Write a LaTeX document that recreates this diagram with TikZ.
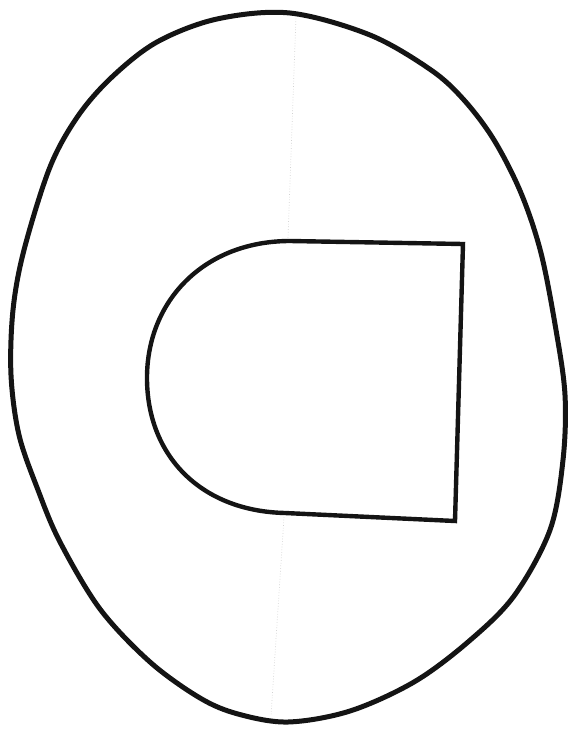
\documentclass[tikz,border=0pt]{standalone}
\begin{document}
\begin{tikzpicture}[x=1pt,y=-1pt,
  outline/.style={draw=black!92,line width=5pt,line join=round,line cap=round},
  scanline/.style={draw=black!18,line width=0.7pt,dotted}]
\useasboundingbox (0,0) rectangle (571,729);
% faint scan line
\draw[scanline] (296,16) -- (288,238);
\draw[scanline] (284,517) -- (271,716);
% outer egg-shaped outline
\draw[outline] plot[smooth cycle,tension=0.55] coordinates {
  (290,13) (370,35) (431,70) (464,100) (494,140) (521,193) (541,253)
  (556,330) (565,395) (563,460) (550,530) (514,596) (468,642) (414,682)
  (350,711) (288,722) (238,714) (200,698) (150,662) (100,609) (60,542) (38,490)
  (19,435) (11,375) (13,310) (24,250) (50,167) (78,116) (112,77)
  (157,42) (217,19)};
% inner D shape
\draw[outline,line width=4.4pt,line cap=butt,line join=miter]
  (290,241) -- (463,244) -- (455,521) -- (285,513)
  .. controls (200,511) and (147,455) .. (147,378)
  .. controls (147,300) and (205,241) .. (290,241) -- cycle;
\end{tikzpicture}
\end{document}
